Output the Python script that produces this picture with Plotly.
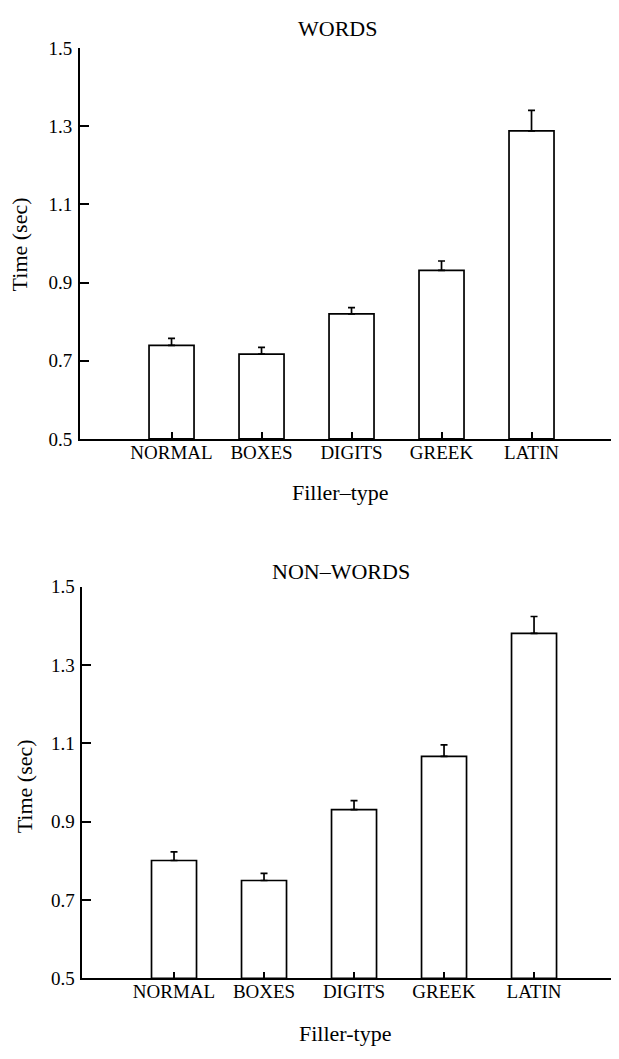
import plotly.graph_objects as go

categories = ["NORMAL", "BOXES", "DIGITS", "GREEK", "LATIN"]
words_time = [0.739, 0.717, 0.820, 0.931, 1.288]
words_err = [0.018, 0.017, 0.016, 0.024, 0.052]
nonwords_time = [0.801, 0.750, 0.931, 1.067, 1.381]
nonwords_err = [0.022, 0.018, 0.023, 0.029, 0.043]
y_ticks = [0.5, 0.7, 0.9, 1.1, 1.3, 1.5]
y_ticklabels = ["0.5", "0.7", "0.9", "1.1", "1.3", "1.5"]

# page body has an 8px default margin; size the figure to fit the window
OFF = 8
W, H = 619 - OFF, 1059 - OFF
FONT = "Liberation Serif"

fig = go.Figure()
xpos = list(range(len(categories)))

for vals, errs, xa, ya in [(words_time, words_err, "x", "y"),
                           (nonwords_time, nonwords_err, "x2", "y2")]:
    fig.add_trace(go.Bar(
        x=xpos, y=[v - 0.5 for v in vals], base=0.5,
        width=0.5, xaxis=xa, yaxis=ya,
        marker=dict(color="white", line=dict(color="black", width=1.7)),
        error_y=dict(type="data", array=errs, arrayminus=[0] * len(errs),
                     symmetric=False, color="black", thickness=1.7, width=3.5),
        showlegend=False, hoverinfo="skip",
    ))

def px_x(p):
    return (p - OFF) / W

def px_y(p):
    return 1 - (p - OFF) / H

tickfont = dict(family=FONT, size=19, color="black")
axis_common = dict(showgrid=False, zeroline=False, showline=True,
                   linecolor="black", linewidth=1.7, ticks="inside",
                   tickcolor="black", tickwidth=1.5, tickfont=tickfont)

fig.update_layout(
    width=W, height=H,
    margin=dict(l=0, r=0, t=0, b=0),
    paper_bgcolor="white", plot_bgcolor="white",
    xaxis=dict(domain=[px_x(80), 1], range=[-1.017, 4.972],
               tickvals=xpos, ticktext=categories, ticklen=7,
               ticklabelstandoff=-5, anchor="y", **axis_common),
    yaxis=dict(domain=[px_y(437.5), px_y(38.5)], range=[0.5, 1.5],
               tickvals=y_ticks, ticktext=y_ticklabels, ticklen=9,
               ticklabelstandoff=2, anchor="x", **axis_common),
    xaxis2=dict(domain=[px_x(82.3), 1], range=[-1.019, 4.944],
                tickvals=xpos, ticktext=categories, ticklen=7,
                ticklabelstandoff=-5, anchor="y2", **axis_common),
    yaxis2=dict(domain=[px_y(988), px_y(588.3)], range=[0.5, 1.5],
                tickvals=y_ticks, ticktext=y_ticklabels, ticklen=9,
                ticklabelstandoff=2, anchor="x2", **axis_common),
)

ann_font = dict(family=FONT, size=22, color="black")
anns = [
    ("WORDS", 337, 19, 0),
    ("Filler\u2013type", 340, 492, 0),
    ("Time (sec)", 19, 239, -90),
    ("NON\u2013WORDS", 341, 573, 0),
    ("Filler-type", 345, 1044, 0),
    ("Time (sec)", 24, 792, -90),
]
for text, x, y, ang in anns:
    fig.add_annotation(text=text, x=px_x(x), y=px_y(y), xref="paper",
                       yref="paper", showarrow=False, font=ann_font,
                       textangle=ang, xanchor="center", yanchor="middle")

fig.write_html("out.html")
